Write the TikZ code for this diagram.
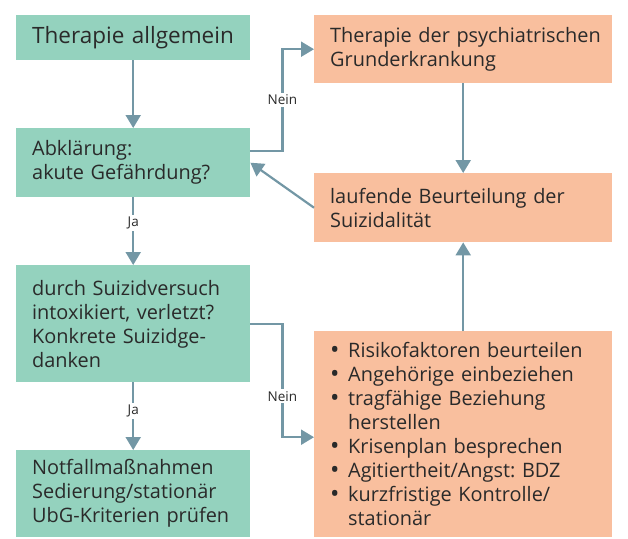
\documentclass[tikz,border=0pt]{standalone}
\usepackage{fontspec}
\setmainfont{Open Sans}
\usetikzlibrary{arrows.meta}
\definecolor{gruen}{HTML}{94D2BE}
\definecolor{lachs}{HTML}{F9BF9E}
\definecolor{pfeilgrau}{HTML}{7397A5}
\definecolor{textgrau}{HTML}{2A2A2A}
\newcommand{\pkt}{\makebox[18pt][l]{\raisebox{-0.6pt}{\fontsize{25}{24}\selectfont\textbullet}}}
\newcommand{\einr}{\hspace*{18pt}}
\frenchspacing

\begin{document}
\begin{tikzpicture}[x=1pt,y=-1pt,>={Triangle[length=13pt,width=15pt]},
box/.style={anchor=north west,inner xsep=16pt,inner ysep=0pt,align=left,
  text=textgrau,font=\fontsize{19.9}{24}\selectfont},
links/.style={box,fill=gruen,text width=202pt},
rechts/.style={box,fill=lachs,text width=266pt},
pfeil/.style={->,draw=pfeilgrau,line width=2.2pt},
lbl/.style={fill=white,text=textgrau,inner sep=2pt,font=\fontsize{13.5}{15}\selectfont}
]
\useasboundingbox (0,0) rectangle (628,538);

% linke Spalte
\node[links,minimum height=45pt,font=\fontsize{22.5}{26}\selectfont] (allg) at (16,15) {Therapie allgemein};
\node[links,minimum height=69pt] (abkl) at (16,128) {Abklärung:\\akute Gefährdung?};
\node[links,minimum height=117pt] (suiz) at (16,265) {durch Suizidversuch\\intoxikiert, verletzt?\\Konkrete Suizidge-\\danken};
\node[links,minimum height=87pt] (notf) at (16,450) {Notfallmaßnahmen\\Sedierung/stationär\\UbG-Kriterien prüfen};

% rechte Spalte
\node[rechts,minimum height=68pt] (grund) at (314,15) {\mbox{Therapie der psychiatrischen}\\Grunderkrankung};
\node[rechts,minimum height=69pt] (lauf) at (314,173) {laufende Beurteilung der\\Suizidalität};
\node[rechts,minimum height=206pt] (mass) at (314,331) {\pkt Risikofaktoren beurteilen\\
\pkt Angehörige einbeziehen\\
\pkt tragfähige Beziehung\\
\einr herstellen\\
\pkt Krisenplan besprechen\\
\pkt Agitiertheit/Angst: BDZ\\
\pkt kurzfristige Kontrolle/\\
\einr stationär};

\draw[pfeil] (allg.south) -- (abkl.north);
\draw[pfeil] (abkl.south) -- (suiz.north) node[lbl,pos=0.38] {Ja};
\draw[pfeil] (suiz.south) -- (notf.north) node[lbl,pos=0.42] {Ja};
\draw[pfeil] ([yshift=12pt]abkl.east) -- ++(32,0) |- (grund.west) node[lbl,pos=0.25] {Nein};
\draw[pfeil] (suiz.east) -- ++(32,0) |- ([yshift=-3pt]mass.west) node[lbl,pos=0.32] {Nein};
\draw[pfeil] (grund.south) -- (lauf.north);
\draw[pfeil] (mass.north) -- (lauf.south);
\draw[pfeil] (lauf.west) -- (abkl.east);
\end{tikzpicture}
\end{document}
